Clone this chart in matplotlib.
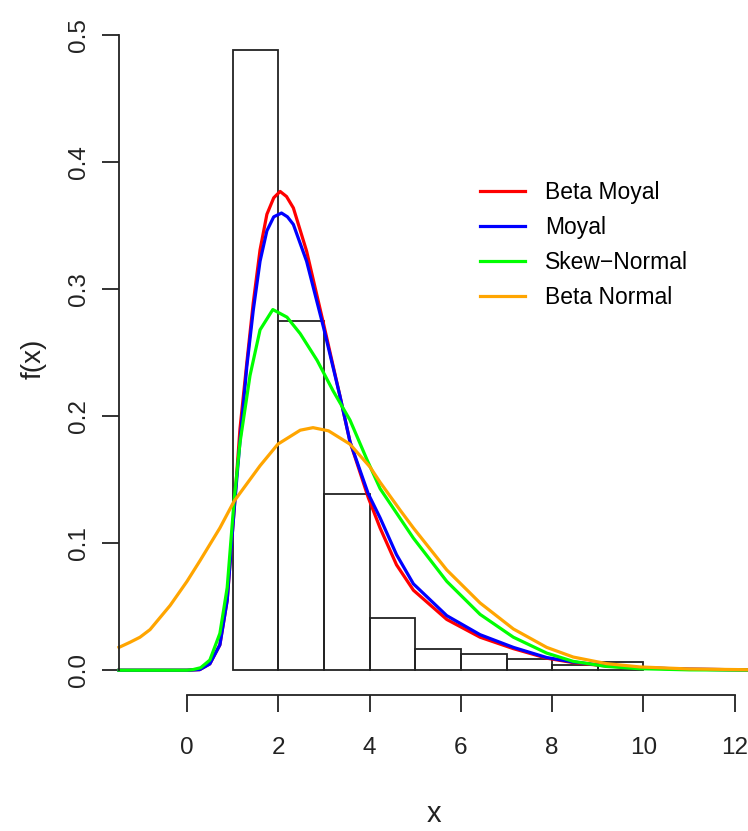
import matplotlib.pyplot as plt
import numpy as np

# ---------------- data ----------------------------------------
bin_left = [1, 2, 3, 4, 5, 6, 7, 8, 9]
bin_height = [0.488, 0.275, 0.139, 0.041, 0.017, 0.013, 0.009, 0.004, 0.0065]

x_bm = [-1.49, 0.0, 0.28, 0.50, 0.72, 0.88, 1.03, 1.16, 1.31, 1.45, 1.60, 1.75, 1.90, 2.04, 2.18, 2.33,
        2.62, 2.99, 3.35, 3.57, 3.97, 4.23, 4.59, 4.96, 5.69, 6.42, 7.15, 7.88, 8.46, 9.19, 9.92, 11.0, 12.3]
y_bm = [0.0, 0.0, 0.0005, 0.005, 0.020, 0.055, 0.125, 0.190, 0.242, 0.289, 0.331, 0.359, 0.372, 0.377, 0.373, 0.364,
        0.330, 0.273, 0.216, 0.180, 0.136, 0.112, 0.083, 0.063, 0.040, 0.026, 0.017, 0.0095, 0.006, 0.0033, 0.0019, 0.0008, 0.0003]

x_moy = [-1.49, 0.0, 0.28, 0.50, 0.72, 0.88, 1.03, 1.16, 1.31, 1.45, 1.60, 1.75, 1.90, 2.07, 2.20, 2.33,
         2.62, 2.99, 3.35, 3.57, 3.97, 4.23, 4.59, 4.96, 5.69, 6.42, 7.15, 7.88, 8.46, 9.19, 9.92, 11.0, 12.3]
y_moy = [0.0, 0.0, 0.0005, 0.005, 0.020, 0.055, 0.125, 0.180, 0.239, 0.283, 0.322, 0.346, 0.357, 0.360, 0.357, 0.351,
         0.322, 0.270, 0.216, 0.180, 0.139, 0.120, 0.091, 0.068, 0.043, 0.028, 0.018, 0.010, 0.0065, 0.0035, 0.002, 0.0008, 0.0003]

x_sn = [-1.49, 0.0, 0.13, 0.30, 0.50, 0.72, 0.88, 1.03, 1.16, 1.38, 1.60, 1.88, 2.19, 2.48, 2.85, 3.20,
        3.57, 3.94, 4.23, 4.96, 5.69, 6.42, 7.15, 7.88, 8.46, 9.19, 9.92, 11.0, 12.3]
y_sn = [0.0, 0.0, 0.0005, 0.002, 0.008, 0.029, 0.065, 0.133, 0.179, 0.232, 0.268, 0.284, 0.278, 0.265, 0.244, 0.220,
        0.197, 0.166, 0.143, 0.104, 0.070, 0.044, 0.026, 0.0135, 0.007, 0.003, 0.0012, 0.0003, 0.0001]

x_bn = [-1.49, -1.25, -1.03, -0.81, -0.37, 0.0, 0.28, 0.72, 1.03, 1.60, 1.99, 2.48, 2.76, 3.10, 3.57, 4.01,
        4.23, 4.67, 4.96, 5.69, 6.42, 7.15, 7.88, 8.46, 9.19, 9.92, 11.0, 12.3]
y_bn = [0.018, 0.022, 0.026, 0.032, 0.051, 0.070, 0.086, 0.112, 0.133, 0.161, 0.178, 0.189, 0.191, 0.1885, 0.178, 0.160,
        0.148, 0.126, 0.112, 0.079, 0.053, 0.0325, 0.018, 0.0104, 0.0052, 0.0026, 0.001, 0.0004]

x_ticks = [0, 2, 4, 6, 8, 10, 12]
y_ticks = [0.0, 0.1, 0.2, 0.3, 0.4, 0.5]
# -------------------------------------------------------------

plt.rcParams['font.family'] = ['Liberation Sans', 'DejaVu Sans']

fig = plt.figure(figsize=(7.48, 8.31), dpi=100)
ax = fig.add_axes([119 / 748, 0.1635, 1 - 119 / 748, 0.8088])

ax.bar(bin_left, bin_height, width=1, align='edge', fill=False, edgecolor='#222222', linewidth=1.3, clip_on=False)

ax.plot(x_bm, y_bm, color='#FF0000', linewidth=2.3, label='Beta Moyal', clip_on=False)
ax.plot(x_moy, y_moy, color='#0000FF', linewidth=2.3, label='Moyal', clip_on=False)
ax.plot(x_sn, y_sn, color='#00FF00', linewidth=2.3, label='Skew\u2212Normal', clip_on=False)
ax.plot(x_bn, y_bn, color='#FFA500', linewidth=2.3, label='Beta Normal', clip_on=False)

ax.set_xlim(-1.49, 12.29)
ax.set_ylim(-0.0196, 0.5096)

for s in ['top', 'right']:
    ax.spines[s].set_visible(False)
ax.spines['left'].set_bounds(0, 0.5)
ax.spines['bottom'].set_bounds(0, 12)
for s in ['left', 'bottom']:
    ax.spines[s].set_linewidth(1.3)
    ax.spines[s].set_color('#222222')

ax.set_xticks(x_ticks)
ax.set_xticklabels([str(t) for t in x_ticks])
ax.set_yticks(y_ticks)
ax.set_yticklabels(['%.1f' % t for t in y_ticks], rotation=90, va='center')
ax.tick_params(axis='both', length=12, width=1.3, color='#222222', labelsize=17.5, labelcolor='#222222')
ax.tick_params(axis='x', pad=18)
ax.tick_params(axis='y', pad=9)

ax.set_xlabel('x', fontsize=21, color='#222222', labelpad=30)
ax.set_ylabel('f(x)', fontsize=20, color='#222222', labelpad=15)

ax.legend(loc='upper left', bbox_to_anchor=(0.574, 0.765), frameon=False, fontsize=16.5,
          handlelength=1.97, handletextpad=0.87, labelspacing=0.53, borderpad=0, borderaxespad=0)

fig.savefig('out.png', dpi=100)
